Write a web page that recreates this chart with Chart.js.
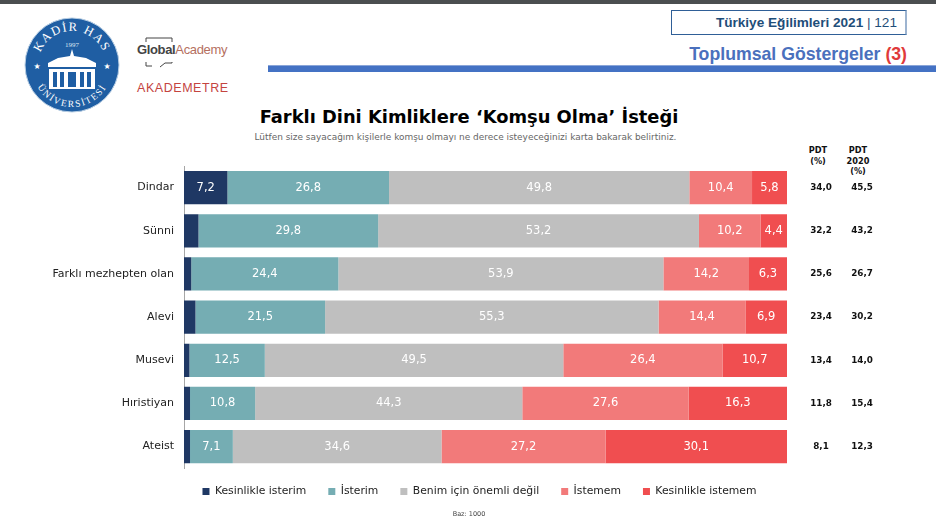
<!DOCTYPE html>
<html>
<head>
<meta charset="utf-8">
<title>Farklı Dini Kimliklere Komşu Olma İsteği</title>
<script src="https://cdn.jsdelivr.net/npm/chart.js@4"></script>
<style>
html,body{margin:0;padding:0;background:#fff;}
#page{position:relative;width:936px;height:523px;overflow:hidden;font-family:"DejaVu Sans",sans-serif;}
#page div,#page svg{position:absolute;white-space:nowrap;}
canvas{position:absolute;left:0;top:0;}
#topband{left:0;top:0;width:936px;height:4px;background:#4b4e50;}
#pagebox{left:671px;top:10px;width:233px;height:23px;border:1px solid #2f5f97;border-right:2px solid #9db4d0;font:bold 13.6px/24px "Liberation Sans",sans-serif;color:#1f4e79;text-align:right;}
#pagebox span{padding-right:8px;}
#pagebox i{font-style:normal;font-weight:normal;}
#section{right:29px;top:43px;font:bold 17.7px/22px "Liberation Sans",sans-serif;color:#4a70bd;}
#section b{color:#e03a3a;}
#rule{left:268px;top:65px;width:668px;height:7px;background:#4472c4;border-top:1px solid #8aa5d8;box-sizing:border-box;}
#title{left:0;width:938px;top:106px;text-align:center;font-weight:bold;font-size:17.85px;line-height:22px;color:#000;}
#subtitle{left:0;width:931px;top:131px;text-align:center;font-size:8.95px;line-height:12px;color:#666;}
.pdthead{top:145px;width:50px;text-align:center;font-weight:bold;font-size:8.2px;line-height:10.7px;color:#111;}
#baz{left:0;width:938px;top:510px;text-align:center;font-size:6.5px;line-height:8px;color:#444;}
#global{left:137px;top:41px;font:bold 13px/18px "Liberation Sans",sans-serif;color:#444;letter-spacing:-.35px;}
#global i{font-style:normal;font-weight:normal;color:#b5705f;}
#akademetre{left:137px;top:79px;font:12.5px/18px "Liberation Sans",sans-serif;letter-spacing:.55px;color:#c4443f;}
</style>
</head>
<body>
<div id="page">
<div id="topband"></div>

<svg style="left:24px;top:17px" width="96" height="96" viewBox="0 0 96 96">
  <circle cx="48" cy="48" r="47" fill="#1f5ea3" stroke="#b9cfe4" stroke-width="1"/>
  <defs>
    <path id="arcTop" d="M 14 48 A 34 34 0 0 1 82 48"/>
    <path id="arcBottom" d="M 8 50 A 40 40 0 0 0 88 50"/>
  </defs>
  <text font-family="Liberation Serif" font-size="12.5" fill="#fff" letter-spacing="1.5"><textPath href="#arcTop" startOffset="50%" text-anchor="middle">KADİR HAS</textPath></text>
  <text font-family="Liberation Serif" font-size="9.5" fill="#fff" letter-spacing="1.6"><textPath href="#arcBottom" startOffset="50%" text-anchor="middle">ÜNİVERSİTESİ</textPath></text>
  <text x="48" y="30" font-family="Liberation Serif" font-size="7" fill="#dbe6f2" text-anchor="middle">1997</text>
  <path d="M48 32 L50 39 L62 41 L72 46 L72 50 L24 50 L24 46 L34 41 L46 39 Z" fill="#fff"/>
  <rect x="25" y="52" width="46" height="20" fill="#fff"/>
  <g fill="#1f5ea3">
    <rect x="29" y="55" width="4" height="15"/><rect x="36" y="55" width="4" height="15"/>
    <rect x="44" y="55" width="8" height="15"/><rect x="56" y="55" width="4" height="15"/>
    <rect x="63" y="55" width="4" height="15"/>
  </g>
  <text x="13" y="52" font-size="8" fill="#fff" text-anchor="middle">★</text>
  <text x="83" y="52" font-size="8" fill="#fff" text-anchor="middle">★</text>
</svg>

<svg style="left:144px;top:36px" width="32" height="32" viewBox="0 0 32 32">
  <path d="M2 6 V2 H28 V6 M2 26 V30 H8 M16 31 L21 27 H28 V26" fill="none" stroke="#444" stroke-width="1"/>
</svg>
<div id="global">Global<i>Academy</i></div>
<div id="akademetre">AKADEMETRE</div>

<div id="pagebox"><span>Türkiye Eğilimleri 2021 <i>| 121</i></span></div>
<div id="section">Toplumsal Göstergeler <b>(3)</b></div>
<div id="rule"></div>

<div id="title">Farklı Dini Kimliklere ‘Komşu Olma’ İsteği</div>
<div id="subtitle">Lütfen size sayacağım kişilerle komşu olmayı ne derece isteyeceğinizi karta bakarak belirtiniz.</div>
<div class="pdthead" style="left:793px">PDT<br>(%)</div>
<div class="pdthead" style="left:833px">PDT<br>2020<br>(%)</div>

<canvas id="chart" width="936" height="523"></canvas>
<div id="baz">Baz: 1000</div>
</div>

<script>
// ======================
// DATA
// ======================

const categories = ["Dindar","Sünni","Farklı mezhepten olan","Alevi","Musevi","Hıristiyan","Ateist"];

const kesinlikleIsterim  = [7.2, 2.4, 1.2, 1.9, 0.9, 1.0, 1.0];
const isterim            = [26.8, 29.8, 24.4, 21.5, 12.5, 10.8, 7.1];
const onemliDegil        = [49.8, 53.2, 53.9, 55.3, 49.5, 44.3, 34.6];
const istemem            = [10.4, 10.2, 14.2, 14.4, 26.4, 27.6, 27.2];
const kesinlikleIstemem  = [5.8, 4.4, 6.3, 6.9, 10.7, 16.3, 30.1];

const pdt     = ["34,0","32,2","25,6","23,4","13,4","11,8","8,1"];
const pdt2020 = ["45,5","43,2","26,7","30,2","14,0","15,4","12,3"];

const FONT = "'DejaVu Sans', sans-serif";

// ======================
// PLUGIN: bar values + PDT columns
// ======================

const valueLabels = {
    id: "valueLabels",
    afterLayout(chart) {
        // legend sits under the plot, not in the middle of the canvas
        chart.legend.left += 86;
        chart.legend.right += 86;
        chart.legend.top -= 4;
        chart.legend.bottom -= 4;
    },
    afterDatasetsDraw(chart) {
        const ctx = chart.ctx;
        ctx.save();
        ctx.textAlign = "center";
        ctx.textBaseline = "middle";

        ctx.font = "11.5px " + FONT;
        ctx.fillStyle = "#fff";
        chart.data.datasets.forEach((ds, i) => {
            chart.getDatasetMeta(i).data.forEach((bar, j) => {
                if (ds.data[j] < 3) return;
                const text = ds.data[j].toFixed(1).replace(".", ",");
                ctx.fillText(text, (bar.base + bar.x) / 2, bar.y);
            });
        });

        ctx.font = "bold 8.8px " + FONT;
        ctx.fillStyle = "#111";
        categories.forEach((c, j) => {
            const y = chart.scales.y.getPixelForValue(j);
            ctx.fillText(pdt[j], 821, y);
            ctx.fillText(pdt2020[j], 862, y);
        });
        ctx.restore();
    }
};

// ======================
// CHART
// ======================

function series(label, data, color) {
    return {
        label: label,
        data: data,
        backgroundColor: color,
        borderWidth: 0,
        categoryPercentage: 1,
        barPercentage: 0.77
    };
}

new Chart(document.getElementById("chart"), {
    type: "bar",
    data: {
        labels: categories,
        datasets: [
            series("Kesinlikle isterim", kesinlikleIsterim, "#1f3864"),
            series("İsterim", isterim, "#75adb3"),
            series("Benim için önemli değil", onemliDegil, "#bfbfbf"),
            series("İstemem", istemem, "#f27a7a"),
            series("Kesinlikle istemem", kesinlikleIstemem, "#f04e50")
        ]
    },
    plugins: [valueLabels],
    options: {
        indexAxis: "y",
        responsive: false,
        animation: false,
        layout: { padding: { left: 0, right: 149, top: 166, bottom: 12 } },
        scales: {
            x: {
                stacked: true,
                min: 0,
                max: 100,
                display: false
            },
            y: {
                stacked: true,
                afterFit(scale) { scale.width = 184; },
                grid: { display: false, drawTicks: false },
                border: { color: "#a6a6a6", width: 1 },
                ticks: {
                    color: "#222",
                    padding: 10,
                    font: { family: FONT, size: 11 }
                }
            }
        },
        plugins: {
            title: { display: false },
            tooltip: { enabled: false },
            legend: {
                position: "bottom",
                labels: {
                    boxWidth: 7,
                    boxHeight: 7,
                    padding: 22,
                    color: "#222",
                    font: { family: FONT, size: 10.8 }
                }
            }
        }
    }
});
</script>
</body>
</html>
